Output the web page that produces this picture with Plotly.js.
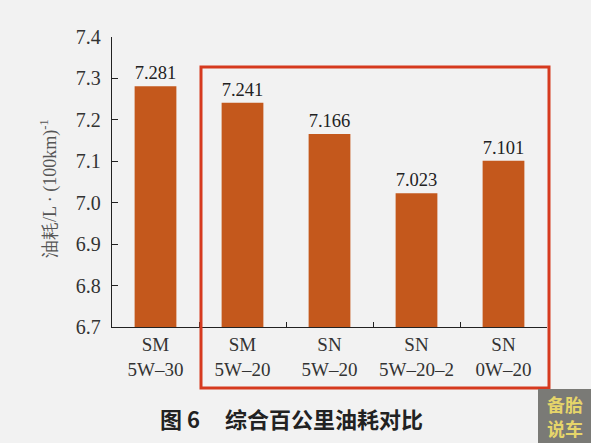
<!DOCTYPE html>
<html>
<head>
<meta charset="utf-8">
<script src="https://cdn.plot.ly/plotly-3.0.1.min.js"></script>
<style>
  html, body { margin: 0; padding: 0; background: #f2f2f2; }
  #plot { width: 591px; height: 443px; }
</style>
</head>
<body>
<div id="plot"></div>
<script>
// oil grades compared, combined consumption per 100 km
const categories = ['SM<br>5W–30', 'SM<br>5W–20', 'SN<br>5W–20', 'SN<br>5W–20–2', 'SN<br>0W–20'];
const consumption = [7.281, 7.241, 7.166, 7.023, 7.101];
const yTicks = [6.7, 6.8, 6.9, 7.0, 7.1, 7.2, 7.3, 7.4];

const serif = 'Liberation Serif, Times New Roman, serif';
const cjk = 'Noto Sans CJK SC, sans-serif';
const bg = '#f2f2f2';

// pixel -> paper helpers (plot area is 112..547 by 37..327)
const px = (x) => (x - 112) / 435;
const py = (y) => (327 - y) / 290;

const trace = {
  x: categories,
  y: consumption,
  type: 'bar',
  width: 0.48,
  text: consumption.map((v) => v.toFixed(3)),
  textposition: 'outside',
  cliponaxis: false,
  textfont: { family: serif, size: 19, color: '#222' },
  marker: { color: '#c4581c', line: { width: 0 } },
  hoverinfo: 'skip',
};

const layout = {
  width: 591,
  height: 443,
  margin: { l: 112, r: 44, t: 37, b: 116 },
  paper_bgcolor: bg,
  plot_bgcolor: bg,
  showlegend: false,
  font: { family: serif, color: '#222' },
  xaxis: {
    type: 'category',
    showline: true,
    linecolor: '#222',
    linewidth: 1.2,
    ticks: 'inside',
    tickson: 'boundaries',
    ticklen: 5,
    tickcolor: '#222',
    tickfont: { family: serif, size: 19, color: '#333' },
    showgrid: false,
    zeroline: false,
  },
  yaxis: {
    range: [6.7, 7.4],
    tickvals: yTicks,
    ticktext: yTicks.map((v) => v.toFixed(1)),
    showline: true,
    linecolor: '#222',
    linewidth: 1.2,
    ticks: 'inside',
    ticklen: 6,
    tickcolor: '#222',
    ticklabelstandoff: 6,
    tickfont: { family: serif, size: 20, color: '#333' },
    showgrid: false,
    zeroline: false,
  },
  shapes: [
    {
      type: 'rect', xref: 'paper', yref: 'paper',
      x0: px(201), x1: px(549), y0: py(388), y1: py(67),
      line: { color: '#d63a1f', width: 3 },
    },
    {
      type: 'rect', xref: 'paper', yref: 'paper',
      x0: px(538), x1: px(591), y0: py(443), y1: py(389),
      fillcolor: '#7a7a76', line: { width: 0 },
    },
  ],
  annotations: [
    {
      text: '油耗/L · (100km)<sup>-1</sup>',
      xref: 'paper', yref: 'paper',
      x: px(49), y: py(188),
      xanchor: 'center', yanchor: 'middle',
      textangle: -90, showarrow: false,
      font: { family: serif, size: 18, color: '#555' },
    },
    {
      text: '<b>图 6     综合百公里油耗对比</b>',
      xref: 'paper', yref: 'paper',
      x: px(291), y: py(418),
      xanchor: 'center', yanchor: 'middle',
      showarrow: false,
      font: { family: cjk, size: 22, color: '#222' },
    },
    {
      text: '<b>备胎</b>',
      xref: 'paper', yref: 'paper',
      x: px(565), y: py(404),
      xanchor: 'center', yanchor: 'middle',
      showarrow: false,
      font: { family: cjk, size: 18, color: '#e6d56a' },
    },
    {
      text: '<b>说车</b>',
      xref: 'paper', yref: 'paper',
      x: px(565), y: py(428),
      xanchor: 'center', yanchor: 'middle',
      showarrow: false,
      font: { family: cjk, size: 18, color: '#e6d56a' },
    },
  ],
};

Plotly.newPlot('plot', [trace], layout, { displayModeBar: false, staticPlot: true });
</script>
</body>
</html>
